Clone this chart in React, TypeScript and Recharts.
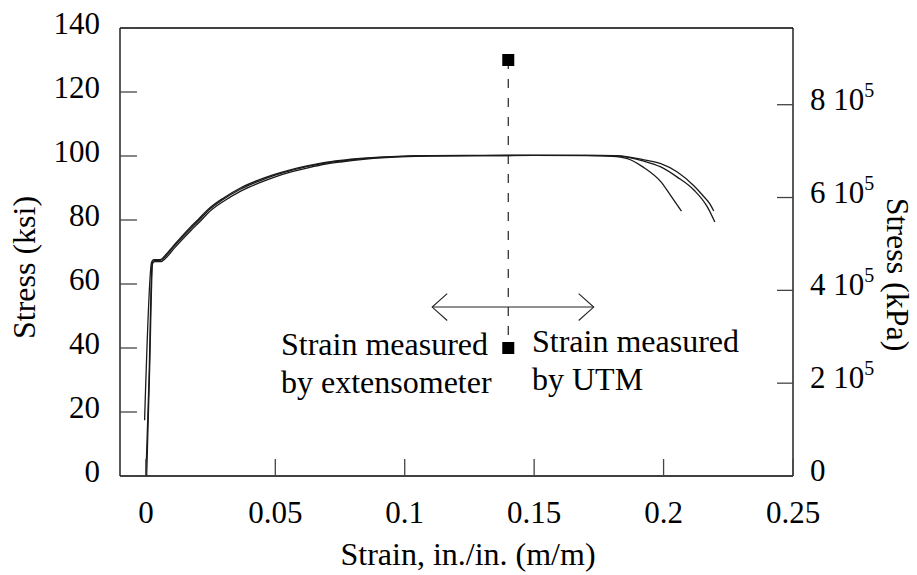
import React from 'react';
import { ComposedChart, Line, Scatter, XAxis, YAxis, ReferenceLine } from 'recharts';

const FONT = '"Liberation Serif", "Times New Roman", serif';
const KPA_PER_KSI = 6894.757;

const strainTicks = [0, 0.05, 0.1, 0.15, 0.2, 0.25];
const ksiTicks = [0, 20, 40, 60, 80, 100, 120, 140];
const kpaTicks = [0, 2e5, 4e5, 6e5, 8e5];

// three coupons, strain (in./in.) vs stress (ksi)
const specimenA = [
  { x: 0, y: 0 }, { x: 0.0012, y: 30 }, { x: 0.0024, y: 66.6 }, { x: 0.0032, y: 67.3 },
  { x: 0.0055, y: 67.3 }, { x: 0.0075, y: 68.6 }, { x: 0.0107, y: 71.6 }, { x: 0.0171, y: 77.2 },
  { x: 0.0205, y: 79.9 }, { x: 0.0236, y: 82.6 }, { x: 0.03, y: 86.5 }, { x: 0.0365, y: 89.6 },
  { x: 0.0429, y: 91.9 }, { x: 0.0494, y: 93.9 }, { x: 0.0558, y: 95.4 }, { x: 0.0622, y: 96.7 },
  { x: 0.0687, y: 97.7 }, { x: 0.0751, y: 98.4 }, { x: 0.0841, y: 99.2 }, { x: 0.097, y: 99.8 },
  { x: 0.11, y: 100.1 }, { x: 0.13, y: 100.2 }, { x: 0.15, y: 100.2 }, { x: 0.17, y: 100.1 },
  { x: 0.18, y: 99.9 }, { x: 0.186, y: 99.2 }, { x: 0.192, y: 96.6 }, { x: 0.199, y: 91.9 },
  { x: 0.2027, y: 87.7 }, { x: 0.2069, y: 82.8 },
];

const specimenB = [
  { x: -0.0005, y: 17.4 }, { x: 0.0022, y: 66.8 }, { x: 0.003, y: 67.6 }, { x: 0.0055, y: 67.6 },
  { x: 0.0075, y: 69 }, { x: 0.0107, y: 72 }, { x: 0.0171, y: 77.7 }, { x: 0.0205, y: 80.4 },
  { x: 0.0236, y: 83 }, { x: 0.03, y: 86.9 }, { x: 0.0365, y: 90 }, { x: 0.0429, y: 92.3 },
  { x: 0.0494, y: 94.2 }, { x: 0.0558, y: 95.7 }, { x: 0.0622, y: 96.9 }, { x: 0.0687, y: 97.9 },
  { x: 0.0751, y: 98.6 }, { x: 0.0841, y: 99.3 }, { x: 0.097, y: 99.9 }, { x: 0.11, y: 100.1 },
  { x: 0.13, y: 100.1 }, { x: 0.15, y: 100.2 }, { x: 0.17, y: 100.2 }, { x: 0.18, y: 100.1 },
  { x: 0.1924, y: 98.4 }, { x: 0.1989, y: 96.6 }, { x: 0.2053, y: 93.4 }, { x: 0.2118, y: 89.3 },
  { x: 0.2169, y: 84.1 }, { x: 0.2198, y: 79.4 },
];

const specimenC = [
  { x: 0.0003, y: 0 }, { x: 0.0014, y: 32 }, { x: 0.0026, y: 66.4 }, { x: 0.0034, y: 67 },
  { x: 0.0058, y: 67 }, { x: 0.0078, y: 68.2 }, { x: 0.011, y: 71.2 }, { x: 0.0175, y: 76.8 },
  { x: 0.021, y: 79.6 }, { x: 0.024, y: 82.2 }, { x: 0.0305, y: 86.1 }, { x: 0.037, y: 89.2 },
  { x: 0.0435, y: 91.5 }, { x: 0.05, y: 93.5 }, { x: 0.0565, y: 95.1 }, { x: 0.063, y: 96.4 },
  { x: 0.0695, y: 97.5 }, { x: 0.0758, y: 98.2 }, { x: 0.085, y: 99 }, { x: 0.098, y: 99.7 },
  { x: 0.11, y: 100 }, { x: 0.13, y: 100.1 }, { x: 0.15, y: 100.2 }, { x: 0.17, y: 100.2 },
  { x: 0.182, y: 100.1 }, { x: 0.1924, y: 98.8 }, { x: 0.1989, y: 97.6 }, { x: 0.2053, y: 95 },
  { x: 0.2118, y: 90.6 }, { x: 0.215, y: 87.8 }, { x: 0.218, y: 84.9 }, { x: 0.2194, y: 82.8 },
];

// switch-over point between extensometer and UTM crosshead
const switchPoints = [{ x: 0.14, y: 130 }, { x: 0.14, y: 40 }];

// double arrow, in strain / ksi units
const arrowShaft = [{ x: 0.1106, y: 52.8 }, { x: 0.173, y: 52.8 }];
const arrowLeft = [{ x: 0.1164, y: 57 }, { x: 0.1106, y: 52.8 }, { x: 0.1164, y: 48.6 }];
const arrowRight = [{ x: 0.1672, y: 57 }, { x: 0.173, y: 52.8 }, { x: 0.1672, y: 48.6 }];

const txt = { fontFamily: FONT, fill: '#000' };
const TICK_COLOR = '#444';

// ticks point into the plot, so each tick draws its own mark
const LeftTick = ({ x, y, payload }: any) => (
  <g>
    <line x1={x + 20} x2={x + 37} y1={y} y2={y} stroke={TICK_COLOR} strokeWidth={1.3} />
    <text x={x} y={y} dy={6} textAnchor="end" fontSize={31} {...txt}>{payload.value}</text>
  </g>
);

const BottomTick = ({ x, y, payload }: any) => (
  <g>
    <line x1={x} x2={x} y1={y - 47} y2={y - 64} stroke={TICK_COLOR} strokeWidth={1.3} />
    <text x={x} y={y} textAnchor="middle" fontSize={31} {...txt}>{payload.value}</text>
  </g>
);

const RightTick = ({ x, y, payload }: any) => {
  const v = payload.value;
  const mark = <line x1={x - 17} x2={x - 33} y1={y} y2={y} stroke={TICK_COLOR} strokeWidth={1.3} />;
  if (v === 0) {
    return (
      <g>
        <text x={x} y={y} dy={5} textAnchor="start" fontSize={31} {...txt}>0</text>
      </g>
    );
  }
  const exp = Math.floor(Math.log10(v));
  const mant = Math.round(v / Math.pow(10, exp));
  return (
    <g>
      {mark}
      <text x={x} y={y} dy={5} textAnchor="start" fontSize={31} {...txt}>
        {`${mant} 10`}
        <tspan fontSize={20} dy={-13}>{exp}</tspan>
      </text>
    </g>
  );
};

const SquareDot = ({ cx, cy }: any) => <rect x={cx - 6} y={cy - 6} width={12} height={12} fill="#000" />;

export default function App() {
  return (
    <div style={{ position: 'absolute', left: 0, top: 0, width: 917, height: 575, background: '#fff' }}>
      <ComposedChart width={917} height={575} margin={{ top: 28, right: 0, bottom: 0, left: 0 }}>
        <XAxis
          dataKey="x"
          type="number"
          domain={[-0.01, 0.25]}
          ticks={strainTicks}
          allowDataOverflow
          height={99}
          tickLine={false}
          tickSize={0}
          tickMargin={47}
          tick={<BottomTick />}
          stroke="#000"
          strokeWidth={1.3}
        />
        <YAxis
          yAxisId="ksi"
          dataKey="y"
          type="number"
          domain={[0, 140]}
          ticks={ksiTicks}
          allowDataOverflow
          width={120}
          tickLine={false}
          tickSize={0}
          tickMargin={20}
          tick={<LeftTick />}
          stroke="#000"
          strokeWidth={1.3}
        />
        <YAxis
          yAxisId="kpa"
          orientation="right"
          type="number"
          domain={[0, 140 * KPA_PER_KSI]}
          ticks={kpaTicks}
          allowDataOverflow
          width={124}
          tickLine={false}
          tickSize={0}
          tickMargin={17}
          tick={<RightTick />}
          stroke="#000"
          strokeWidth={1.3}
        />
        <ReferenceLine yAxisId="ksi" y={140} stroke="#000" strokeWidth={1.3} />

        <Line yAxisId="ksi" data={specimenA} dataKey="y" type="monotone" stroke="#1a1a1a" strokeWidth={1.3} dot={false} isAnimationActive={false} />
        <Line yAxisId="ksi" data={specimenB} dataKey="y" type="monotone" stroke="#1a1a1a" strokeWidth={1.3} dot={false} isAnimationActive={false} />
        <Line yAxisId="ksi" data={specimenC} dataKey="y" type="monotone" stroke="#1a1a1a" strokeWidth={1.3} dot={false} isAnimationActive={false} />

        <Line yAxisId="ksi" data={switchPoints} dataKey="y" type="linear" stroke="#222" strokeWidth={1.2} strokeDasharray="9 10" dot={false} isAnimationActive={false} />
        <Scatter yAxisId="ksi" data={switchPoints} dataKey="y" shape={<SquareDot />} isAnimationActive={false} />

        <Line yAxisId="ksi" data={arrowShaft} dataKey="y" type="linear" stroke="#222" strokeWidth={1.1} dot={false} isAnimationActive={false} />
        <Line yAxisId="ksi" data={arrowLeft} dataKey="y" type="linear" stroke="#222" strokeWidth={1.1} dot={false} isAnimationActive={false} />
        <Line yAxisId="ksi" data={arrowRight} dataKey="y" type="linear" stroke="#222" strokeWidth={1.1} dot={false} isAnimationActive={false} />

        <text transform="translate(35,267.5) rotate(-90)" textAnchor="middle" fontSize={32} {...txt}>Stress (ksi)</text>
        <text transform="translate(887,274.5) rotate(90)" textAnchor="middle" fontSize={32} {...txt}>Stress (kPa)</text>
        <text x={468} y={565} textAnchor="middle" fontSize={32} {...txt}>Strain, in./in. (m/m)</text>

        <text x={281} y={355} fontSize={32} {...txt}>Strain measured</text>
        <text x={281} y={393} fontSize={32} {...txt}>by extensometer</text>
        <text x={532} y={352} fontSize={32} {...txt}>Strain measured</text>
        <text x={532} y={390} fontSize={32} {...txt}>by UTM</text>
      </ComposedChart>
    </div>
  );
}
